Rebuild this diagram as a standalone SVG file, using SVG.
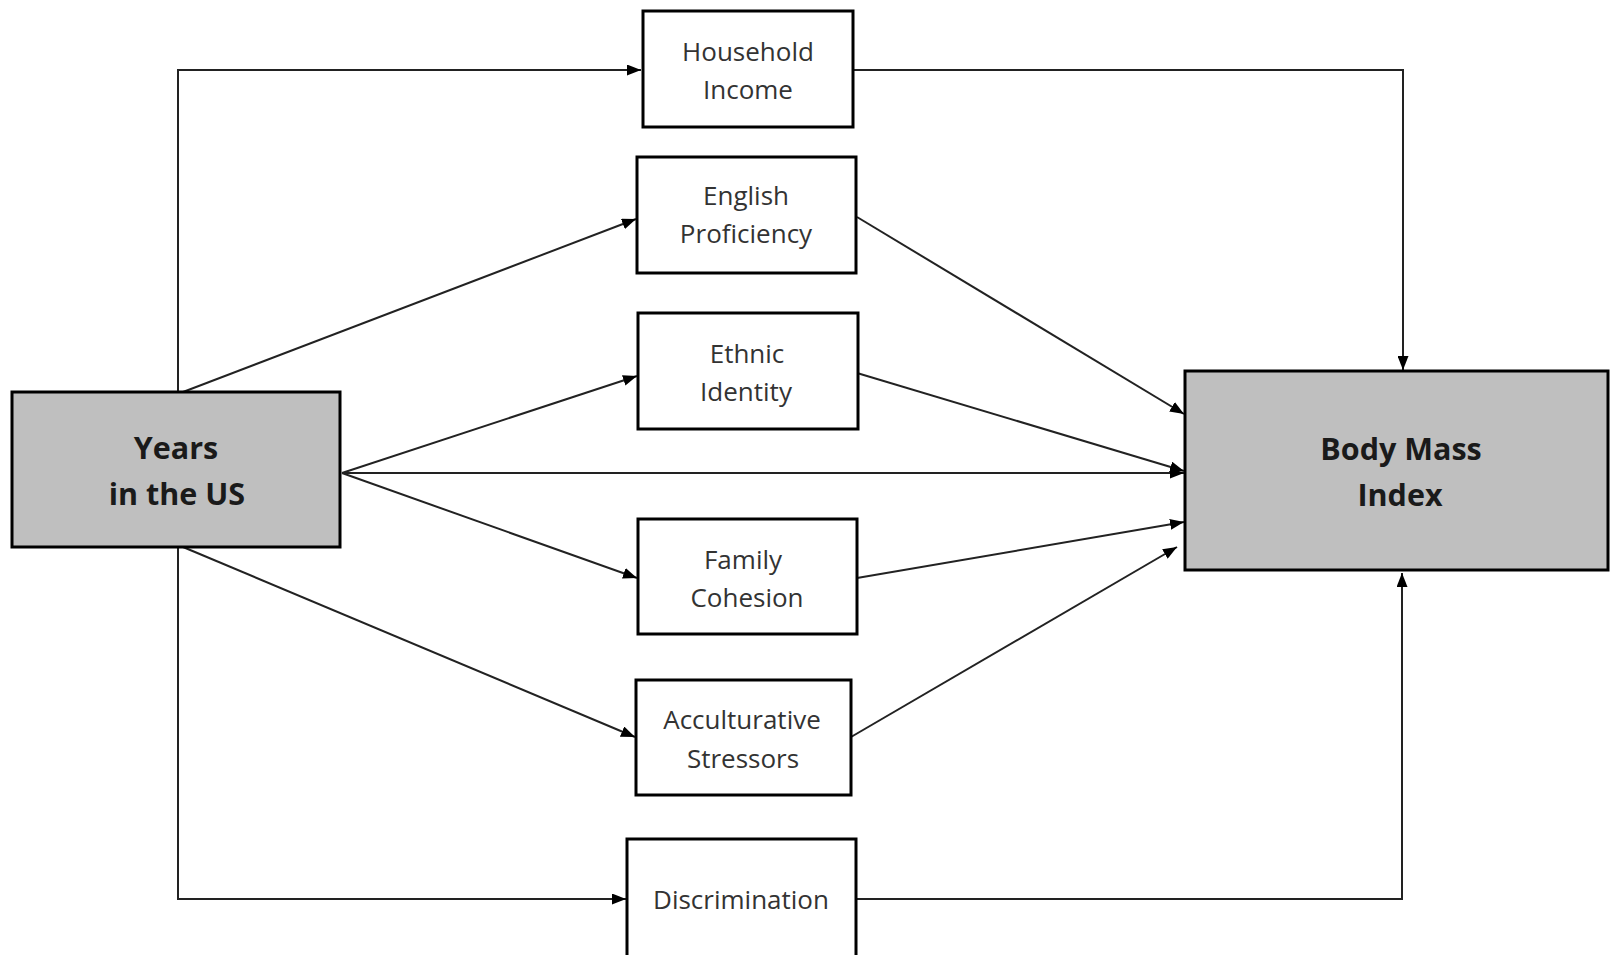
<svg xmlns="http://www.w3.org/2000/svg" width="1610" height="955" viewBox="0 0 1610 955">
<style>
.box{fill:#ffffff;stroke:#000;stroke-width:3}
.grey{fill:#bfbfbf;stroke:#000;stroke-width:3}
.lbl{font-family:"Open Sans","Liberation Sans",sans-serif;font-size:26px;fill:#333;text-anchor:middle}
.big{font-family:"Open Sans","Liberation Sans",sans-serif;font-size:30.5px;font-weight:bold;fill:#1a1a1a;text-anchor:middle}
.c{fill:none;stroke:#222;stroke-width:2}
</style>
<defs>
<marker id="ah" viewBox="0 0 14 11" refX="14" refY="5.5" markerWidth="14" markerHeight="11" markerUnits="userSpaceOnUse" orient="auto">
<path d="M0,0 L14,5.5 L0,11 Z" fill="#000"/>
</marker>
</defs>
<rect width="1610" height="955" fill="#fff"/>
<g id="connectors">
<polyline class="c" points="178,392 178,70 641,70" marker-end="url(#ah)"/>
<polyline class="c" points="853,70 1403,70 1403,370" marker-end="url(#ah)"/>
<line class="c" x1="183" y1="392" x2="636" y2="219" marker-end="url(#ah)"/>
<line class="c" x1="857" y1="217" x2="1184" y2="414" marker-end="url(#ah)"/>
<line class="c" x1="342" y1="473" x2="637" y2="376" marker-end="url(#ah)"/>
<line class="c" x1="857" y1="373" x2="1184" y2="471" marker-end="url(#ah)"/>
<line class="c" x1="342" y1="473" x2="1184" y2="473" marker-end="url(#ah)"/>
<line class="c" x1="342" y1="473" x2="637" y2="578" marker-end="url(#ah)"/>
<line class="c" x1="857" y1="578" x2="1184" y2="522" marker-end="url(#ah)"/>
<line class="c" x1="183" y1="547" x2="635" y2="737" marker-end="url(#ah)"/>
<line class="c" x1="851" y1="737" x2="1177" y2="547" marker-end="url(#ah)"/>
<polyline class="c" points="178,547 178,899 626,899" marker-end="url(#ah)"/>
<polyline class="c" points="856,899 1402,899 1402,573" marker-end="url(#ah)"/>
</g>
<g id="years">
<rect class="grey" x="12" y="392" width="328" height="155"/>
<text class="big" x="176" y="459">Years</text>
<text class="big" x="177" y="505">in the US</text>
</g>
<g id="bmi">
<rect class="grey" x="1185" y="371" width="423" height="199"/>
<text class="big" x="1401" y="460">Body Mass</text>
<text class="big" x="1400" y="506">Index</text>
</g>
<g id="household">
<rect class="box" x="643" y="11" width="210" height="116"/>
<text class="lbl" x="748" y="61">Household</text>
<text class="lbl" x="748" y="99">Income</text>
</g>
<g id="english">
<rect class="box" x="637" y="157" width="219" height="116"/>
<text class="lbl" x="746" y="205">English</text>
<text class="lbl" x="746" y="243">Proficiency</text>
</g>
<g id="ethnic">
<rect class="box" x="638" y="313" width="220" height="116"/>
<text class="lbl" x="747" y="363">Ethnic</text>
<text class="lbl" x="746" y="401">Identity</text>
</g>
<g id="family">
<rect class="box" x="638" y="519" width="219" height="115"/>
<text class="lbl" x="743" y="569">Family</text>
<text class="lbl" x="747" y="607">Cohesion</text>
</g>
<g id="acculturative">
<rect class="box" x="636" y="680" width="215" height="115"/>
<text class="lbl" x="742" y="729">Acculturative</text>
<text class="lbl" x="743" y="768">Stressors</text>
</g>
<g id="discrimination">
<rect class="box" x="627" y="839" width="229" height="120"/>
<text class="lbl" x="741" y="909">Discrimination</text>
</g>
</svg>
